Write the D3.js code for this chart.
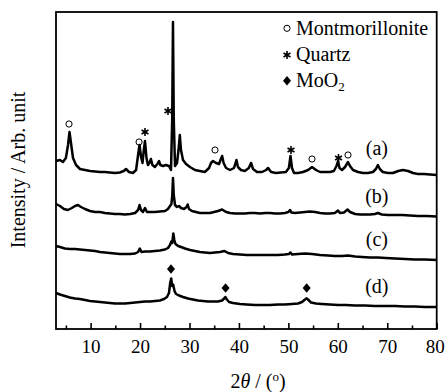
<!DOCTYPE html>
<html>
<head>
<meta charset="utf-8">
<script src="https://cdn.jsdelivr.net/npm/d3@7"></script>
<style>
  body { margin: 0; background: #fff; }
</style>
</head>
<body>
<div id="chart"></div>
<script>
// stacked XRD patterns, [2theta, intensity] (arb. units, offsets included)
const seriesA = [[3.0,168],[3.8,169],[4.4,167],[5.0,171],[5.43,184],[5.73,197],[6.03,186],[6.44,171],[7.05,164],[7.85,160],
  [8.87,159],[9.88,158],[10.9,157.5],[11.9,157],[12.9,157],[13.9,156.5],[14.93,156],[15.9,156.5],[16.7,158],[17.16,160],
  [17.77,157],[18.57,156],[19.2,159],[19.6,174],[19.9,184],[20.2,172],[20.5,166],[20.76,179],[21.0,188],[21.3,171],
  [21.6,164],[22.0,167],[22.2,170],[22.5,164],[23.0,162],[23.5,165],[23.83,168],[24.1,164],[24.65,163],[25.2,164],
  [25.85,163],[26.26,159],[26.5,209],[26.66,307],[26.82,209],[27.07,163],[27.47,166],[27.78,179],[28.04,194],[28.28,179],
  [28.69,169],[29.3,165],[30.1,162],[31.1,159],[32.1,158],[33.1,157],[33.95,161],[34.35,166],[34.76,168],[35.36,166],
  [35.97,165],[36.27,169],[36.6,173],[36.9,166],[37.4,161],[38.2,159],[39.0,161],[39.5,169],[39.8,162],[40.4,159],
  [41.2,158],[42.0,161],[42.45,166],[42.85,160],[43.65,157],[44.67,157],[45.5,159],[45.9,161],[46.5,157],[47.5,156],
  [48.5,156.5],[49.5,157],[50.1,161],[50.43,173],[50.73,161],[51.14,156],[51.95,156],[52.96,157],[54.0,159],[54.78,162],
  [55.6,159],[56.4,157],[57.4,157],[58.4,157],[59.2,158],[59.73,163],[60.04,168],[60.34,161],[60.85,159],[61.46,162],
  [62.06,167],[62.46,163],[63.07,159],[64.1,157],[65.1,156],[66.1,156],[67.1,157],[67.7,160],[68.1,164],[68.5,160],
  [69.1,157],[70.15,156],[71.16,156],[72.2,158],[73.2,159],[74.2,158],[75.2,156],[76.2,155],[77.4,155],[78.65,154.5],[80,154]];

const seriesB = [[3.0,125],[3.8,123],[4.6,120],[5.4,119],[6.2,121],[6.85,123],[7.45,124],[8.05,122],[8.87,120],[9.88,118],
  [10.9,117],[11.9,117],[12.9,116],[13.9,115.5],[14.93,115],[15.9,115],[16.96,114.5],[18.0,115],[19.0,116],[19.6,119],
  [19.9,124],[20.2,119],[20.6,117],[21.0,121],[21.4,117],[22.0,117],[23.0,117],[24.0,117.5],[25.05,118],[25.65,120],
  [26.06,123],[26.35,125],[26.52,134],[26.66,151],[26.82,134],[27.07,124],[27.47,122],[27.88,123],[28.28,121],[28.9,120],
  [29.4,122],[29.64,124.5],[29.9,120],[30.5,118],[31.3,117],[32.1,116],[33.1,116],[34.15,116],[34.96,117],[35.77,118],
  [36.6,119.5],[37.4,117],[38.2,116],[39.2,115.5],[40.2,115.5],[41.2,115.5],[42.2,116],[43.25,116],[44.26,115.5],[45.27,116],
  [46.28,116],[47.3,115.5],[48.3,115.5],[49.3,116],[50.0,117],[50.33,119],[50.63,116.5],[51.34,116],[52.35,116.5],[53.36,117],
  [54.37,117.5],[55.4,117],[56.4,116],[57.4,115.5],[58.4,115.5],[59.4,116],[60.04,118.5],[60.44,116],[61.25,116.5],[61.96,119.5],
  [62.46,117],[63.5,115],[64.5,114.5],[65.5,114.5],[66.5,114.5],[67.5,115],[68.1,116],[68.9,114.5],[70.15,114],[71.6,114],
  [73.0,114],[74.6,113.5],[76.2,113],[78.0,113],[80,112.5]];

const seriesC = [[3.0,83],[3.8,82],[4.8,80.5],[5.8,80],[6.85,80],[7.85,79.5],[8.87,79],[9.88,78.5],[10.9,78],[11.9,77],
  [12.9,76.5],[13.9,76],[14.93,75.5],[15.9,75],[16.96,75],[18.0,75],[19.0,75.5],[19.6,77],[19.95,80.5],[20.3,77],
  [21.0,77.5],[22.0,77.5],[23.0,78],[24.0,78.5],[25.05,79.5],[25.65,81],[26.06,84],[26.32,87.5],[26.52,86],[26.73,95.5],
  [26.93,89],[27.17,85],[27.7,83],[28.3,82],[29.1,80.5],[30.1,79],[31.1,78],[32.1,77],[33.1,76.5],[34.15,76],
  [35.16,76.5],[36.17,77],[37.08,78],[37.8,76],[38.8,75],[40.2,74.5],[41.6,74],[43.25,74],[44.67,74],[46.28,74],
  [47.9,74],[49.3,74.5],[50.1,75],[50.43,76.5],[50.73,74.5],[51.95,75],[53.36,75.5],[54.8,75],[56.4,74],[58.0,73.5],
  [59.4,73],[60.85,73],[62.06,73.5],[63.5,72.5],[64.9,72],[66.5,71.5],[68.1,71.5],[69.7,71],[71.6,70.5],[73.6,70],
  [75.6,69.5],[77.6,69.5],[80,69]];

const seriesD = [[3.0,36],[3.8,34.5],[4.8,33],[5.8,31.5],[6.85,30.5],[7.85,30],[8.87,29],[9.88,28],[10.9,27.5],[11.9,27],
  [12.9,26.5],[13.9,26],[14.93,25.5],[15.9,25.5],[16.96,25.5],[18.0,26],[19.0,26.5],[20.0,27],[21.0,27.5],[22.0,27.5],
  [23.0,28],[24.0,28.5],[24.85,30],[25.45,32],[25.85,36],[26.1,46],[26.3,50.5],[26.5,43],[26.7,44.5],[26.97,38],
  [27.27,35],[27.88,33.5],[28.7,32],[29.7,30.5],[30.7,29.5],[31.7,28.5],[32.7,28],[33.75,27.5],[34.76,27.5],[35.77,27.5],
  [36.6,28.5],[37.0,30.5],[37.25,32],[37.56,29.5],[38.0,27],[38.8,26],[40.2,25],[41.6,24.5],[43.25,24],[44.67,24],
  [46.28,24],[47.9,24.5],[49.3,24.5],[50.7,25],[51.95,25.5],[52.76,27],[53.36,29.5],[53.7,30.7],[54.07,29],[54.58,26.5],
  [55.6,25.5],[56.8,25],[58.4,24.5],[60.04,24],[61.66,24],[63.5,23.5],[65.5,23.5],[67.5,23],[69.55,23],[71.6,23],
  [73.6,22.5],[75.6,22.5],[77.6,22],[80,22]];

const seriesNames = ["(a)", "(b)", "(c)", "(d)"];
const labelLevels = [174, 126, 83, 36];   // intensity where each label sits

// phase markers: [2theta, intensity, phase]
const peakMarks = [[5.63,205,"M"],[19.8,187,"M"],[21.0,197,"Q"],[25.65,218,"Q"],[35.16,179,"M"],
  [50.53,179,"Q"],[54.78,170,"M"],[60.14,171,"Q"],[62.06,174,"M"],
  [26.26,60,"D"],[37.3,41,"D"],[53.7,41,"D"]];

const legendItems = [["M","Montmorillonite"],["Q","Quartz"],["D","MoO"]];

const xTicks = [10, 20, 30, 40, 50, 60, 70, 80];
const xMinor = [5, 15, 25, 35, 45, 55, 65, 75];

const FONT = "Liberation Serif";
const width = 447, height = 392;
const margin = { top: 12, right: 10.3, bottom: 63, left: 56 };

const svg = d3.select("#chart").append("svg")
  .attr("width", width).attr("height", height)
  .attr("font-family", FONT);

const x = d3.scaleLinear().domain([3, 80]).range([margin.left, width - margin.right]);
const y = d3.scaleLinear().domain([0, 317]).range([height - margin.bottom, margin.top]);

const line = d3.line().x(d => x(d[0])).y(d => y(d[1]));

svg.selectAll("path.pattern")
  .data([seriesA, seriesB, seriesC, seriesD])
  .join("path")
  .attr("class", "pattern")
  .attr("d", line)
  .attr("fill", "none")
  .attr("stroke", "#000")
  .attr("stroke-width", 2.5)
  .attr("stroke-linejoin", "round");

// frame
svg.append("rect")
  .attr("x", x(3)).attr("y", y(317))
  .attr("width", x(80) - x(3)).attr("height", y(0) - y(317))
  .attr("fill", "none").attr("stroke", "#000").attr("stroke-width", 1.8);

const xAxis = svg.append("g")
  .attr("transform", `translate(0,${y(0)})`)
  .call(d3.axisBottom(x).tickValues(xTicks).tickSize(-6).tickPadding(10.5));
xAxis.attr("font-family", FONT).attr("font-size", 19);
xAxis.select(".domain").remove();
xAxis.selectAll("line").attr("stroke-width", 1.6);
xAxis.selectAll("text").attr("font-family", FONT).attr("font-size", 19).attr("fill", "#000")
  .attr("dx", d => d === 80 ? "-0.1em" : 0);

const minorAxis = svg.append("g")
  .attr("transform", `translate(0,${y(0)})`)
  .call(d3.axisBottom(x).tickValues(xMinor).tickSize(-3.5).tickFormat(""));
minorAxis.select(".domain").remove();
minorAxis.selectAll("line").attr("stroke-width", 1.6);

// markers
function asterisk(r) {
  let p = "";
  [90, 30, 150].forEach(a => {
    const dx = r * Math.cos(a * Math.PI / 180), dy = r * Math.sin(a * Math.PI / 180);
    p += `M${-dx},${-dy}L${dx},${dy}`;
  });
  return p;
}
function drawMark(g, type, cx, cy) {
  if (type === "M") {
    g.append("circle").attr("cx", cx).attr("cy", cy).attr("r", 3.1)
      .attr("fill", "none").attr("stroke", "#000").attr("stroke-width", 1);
  } else if (type === "Q") {
    g.append("path").attr("d", asterisk(4)).attr("transform", `translate(${cx},${cy})`)
      .attr("stroke", "#000").attr("stroke-width", 1.6).attr("fill", "none");
  } else {
    g.append("path").attr("d", "M0,-4.8L4,0L0,4.8L-4,0Z").attr("transform", `translate(${cx},${cy})`)
      .attr("fill", "#000");
  }
}
const markG = svg.append("g");
peakMarks.forEach(m => drawMark(markG, m[2], x(m[0]), y(m[1])));

// series labels
svg.selectAll("text.slabel")
  .data(seriesNames)
  .join("text")
  .attr("class", "slabel")
  .attr("x", x(67.9))
  .attr("y", (d, i) => y(labelLevels[i]))
  .attr("text-anchor", "middle")
  .attr("font-family", FONT)
  .attr("font-size", 20)
  .text(d => d);

// legend
const leg = svg.append("g");
legendItems.forEach((it, i) => {
  const ly = 35.3 + i * 26;
  drawMark(leg, it[0], 287, it[0] === "M" ? 28.3 : (it[0] === "Q" ? 55 : 80.7));
  const t = leg.append("text").attr("x", 296).attr("y", ly)
    .attr("font-family", FONT).attr("font-size", 20).text(it[1]);
  if (it[0] === "D") t.append("tspan").attr("dy", 4).attr("font-size", 13).text("2");
});

// axis titles
const xt = svg.append("text")
  .attr("x", 258).attr("y", 388)
  .attr("text-anchor", "middle")
  .attr("font-family", FONT)
  .attr("font-size", 20);
xt.append("tspan").text("2");
xt.append("tspan").attr("font-style", "italic").text("θ");
xt.append("tspan").text(" / (");
xt.append("tspan").attr("dy", -7).attr("font-size", 13).text("o");
xt.append("tspan").attr("dy", 7).text(")");

svg.append("text")
  .attr("transform", "translate(25,170) rotate(-90)")
  .attr("text-anchor", "middle")
  .attr("font-family", FONT)
  .attr("font-size", 20)
  .text("Intensity / Arb. unit");
</script>
</body>
</html>
